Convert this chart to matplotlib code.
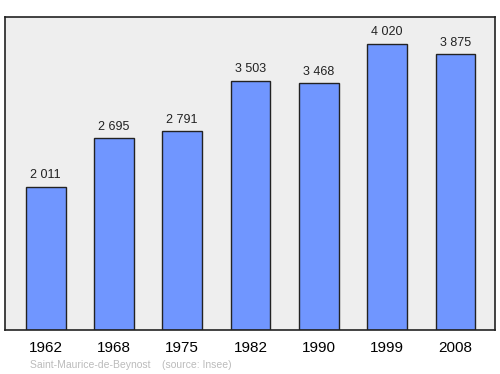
import matplotlib
matplotlib.use("Agg")
import matplotlib.pyplot as plt

years = ["1962", "1968", "1975", "1982", "1990", "1999", "2008"]
population = [2011, 2695, 2791, 3503, 3468, 4020, 3875]
value_labels = ["2 011", "2 695", "2 791", "3 503", "3 468", "4 020", "3 875"]

plt.rcParams["font.family"] = ["Liberation Sans", "DejaVu Sans"]

fig = plt.figure(figsize=(5, 3.74), dpi=100)
ax = fig.add_axes([0.01, 0.1176, 0.98, 0.837])
ax.set_facecolor("#eeeeee")

x = range(len(years))
bars = ax.bar(x, population, width=0.585, color="#7096ff",
              edgecolor="#222222", linewidth=1.0)

for b, lab in zip(bars, value_labels):
    ax.annotate(lab, (b.get_x() + b.get_width() / 2, b.get_height()),
                xytext=(0, 4), textcoords="offset points",
                ha="center", va="bottom", fontsize=9, color="#222222")

ax.set_xlim(-0.593, 6.578)
ax.set_ylim(0, 4400)
ax.set_xticks(list(x))
ax.set_xticklabels(years, fontsize=11)
ax.tick_params(axis="x", length=0, pad=8)
ax.set_yticks([])
for s in ax.spines.values():
    s.set_color("#222222")
    s.set_linewidth(1.2)

fig.text(0.06, 0.024, "Saint-Maurice-de-Beynost    (source: Insee)",
         fontsize=7.5, color="#bbbbbb", ha="left", va="center")

fig.savefig("out.png", dpi=100)
